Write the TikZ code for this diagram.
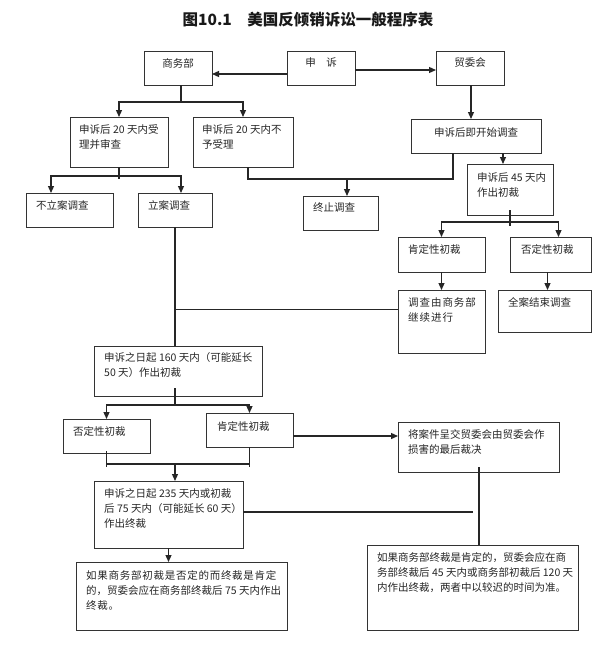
\documentclass[tikz,border=0pt]{standalone}
\usepackage{fontspec}
\setmainfont{Noto Sans CJK SC}
\usetikzlibrary{calc,arrows.meta}
\tikzset{
  box/.style={draw=black!80, line width=1pt, anchor=north west, inner sep=0pt, outer sep=0pt},
  txt/.style={anchor=north west, inner sep=0pt, align=left, font=\fontsize{10.5}{15}\selectfont, text=black!85},
  ln/.style={draw=black!85, line width=1.25pt},
  arr/.style={ln, -{Triangle[length=7pt,width=6pt]}},
}
\newcommand\boxat[5]{%
  \node[box, minimum width={#4pt-#2pt}, minimum height={#5pt-#3pt}] (#1) at (#2,#3) {};
}
\begin{document}
\begin{tikzpicture}[x=1pt,y=-1pt]
\fill[white] (0,0) rectangle (613,649);
\useasboundingbox (0,0) rectangle (613,649);

\node[font=\fontsize{15.5}{18}\bfseries, text=black!90] (title) at (308,20) {图10.1　美国反倾销诉讼一般程序表};

% boxes
\boxat{smb}{144}{51}{212}{85}
\boxat{ss}{287}{51}{355}{85}
\boxat{mw}{436}{51}{504}{85}
\boxat{A}{70}{117}{168}{167}
\boxat{B}{193}{117}{293}{167}
\boxat{nl}{26}{193}{113}{227}
\boxat{la}{138}{193}{212}{227}
\boxat{zz}{303}{196}{378}{230}
\boxat{ks}{411}{119}{541}{153}
\boxat{c45}{467}{164}{553}{215}
\boxat{kd1}{398}{237}{485}{272}
\boxat{fd1}{510}{237}{591}{272}
\boxat{jx}{398}{290}{485}{353}
\boxat{qa}{498}{290}{591}{332}
\boxat{c160}{94}{346}{262}{396}
\boxat{fd2}{63}{419}{150}{453}
\boxat{kd2}{206}{413}{293}{447}
\boxat{jaj}{398}{422}{559}{472}
\boxat{c235}{94}{481}{243}{548}
\boxat{fl}{76}{562}{287}{630}
\boxat{fr}{367}{545}{578}{630}

% texts
\node[txt, anchor=center] (smbt) at (178,63) {商务部};
\node[txt, anchor=center] (sst) at (321,62) {申　诉};
\node[txt, anchor=center] (mwt) at (470,63) {贸委会};
\node[txt] (At) at ($(A.north west)+(9,7)$) {申诉后 20 天内受\\理并审查};
\node[txt] (Bt) at ($(B.north west)+(9,7)$) {申诉后 20 天内不\\予受理};
\node[txt] (nlt) at ($(nl.north west)+(10,7)$) {不立案调查};
\node[txt] (lat) at ($(la.north west)+(10,7)$) {立案调查};
\node[txt] (zzt) at ($(zz.north west)+(10,6)$) {终止调查};
\node[txt, anchor=north] (kst) at ($(ks.north)+(0,8)$) {申诉后即开始调查};
\node[txt] (c45t) at ($(c45.north west)+(10,8)$) {申诉后 45 天内\\作出初裁};
\node[txt] (kd1t) at ($(kd1.north west)+(10,7)$) {肯定性初裁};
\node[txt] (fd1t) at ($(fd1.north west)+(11,7)$) {否定性初裁};
\node[txt] (jxt) at ($(jx.north west)+(10,7)$) {\addfontfeature{LetterSpace=9}调查由商务部\\\addfontfeature{LetterSpace=9}继续进行};
\node[txt] (qat) at ($(qa.north west)+(10,7)$) {全案结束调查};
\node[txt] (c160t) at ($(c160.north west)+(10,6)$) {申诉之日起 160 天内（可能延长\\50 天）作出初裁};
\node[txt] (fd2t) at ($(fd2.north west)+(10,7)$) {否定性初裁};
\node[txt] (kd2t) at ($(kd2.north west)+(11,8)$) {肯定性初裁};
\node[txt] (jajt) at ($(jaj.north west)+(10,7)$) {将案件呈交贸委会由贸委会作\\损害的最后裁决};
\node[txt] (c235t) at ($(c235.north west)+(10,7)$) {申诉之日起 235 天内或初裁\\后 75 天内（可能延长 60 天）\\作出终裁};
\node[txt] (flt) at ($(fl.north west)+(10,8)$) {\addfontfeature{LetterSpace=7}如果商务部初裁是否定的而终裁是肯定\\的，贸委会应在商务部终裁后 75 天内作出\\\addfontfeature{LetterSpace=7}终裁。};
\node[txt] (frt) at ($(fr.north west)+(10,7)$) {如果商务部终裁是肯定的，贸委会应在商\\务部终裁后 45 天内或商务部初裁后 120 天\\内作出终裁，两者中以较迟的时间为准。};

% connectors
\draw[arr] ($(ss.west)+(0,6)$) -- ($(smb.east)+(0,6)$);
\draw[arr] ($(ss.east)+(0,2)$) -- ($(mw.west)+(0,2)$);

\coordinate (smbS) at ($(smb.south)+(3,0)$);
\coordinate (j1) at ($(smbS)+(0,17)$);
\draw[ln] (smbS) -- (j1);
\draw[arr] (j1) -| (A.north);
\draw[arr] (j1) -| (B.north);

\coordinate (j2) at ($(A.south)+(0,9)$);
\draw[ln] (A.south) -- ($(A.south)+(0,12)$);
\coordinate (nlT) at ($(nl.north west)+(25,0)$);
\coordinate (laT) at ($(la.north west)+(43,0)$);
\draw[arr] (j2) -| (nlT);
\draw[arr] (j2) -| (laT);

\coordinate (bS) at ($(B.south)+(5,0)$);
\coordinate (j3) at ($(bS)+(0,12)$);
\coordinate (ksS) at ($(ks.south west)+(42,0)$);
\draw[ln] (bS) -- (j3) -| (ksS);
\coordinate (zzT) at ($(zz.north west)+(44,0)$);
\draw[arr] (zzT |- j3) -- (zzT);

\coordinate (mwS) at ($(mw.south)+(1,0)$);
\draw[arr] (mwS) -- (mwS |- ks.north);
\coordinate (ksS2) at ($(ks.south west)+(92,0)$);
\draw[arr] (ksS2) -- (ksS2 |- c45.north);

\coordinate (j4) at ($(c45.south)+(0,7)$);
\draw[ln] ($(c45.south)+(0,-5)$) -- ($(c45.south)+(0,11)$);
\coordinate (fdT) at ($(fd1.north)+(8,0)$);
\draw[arr] (j4) -| (kd1.north);
\draw[arr] (j4) -| (fdT);

\draw[arr] (kd1.south) -- (jx.north);
\coordinate (fdS) at ($(fd1.south)+(-3,0)$);
\draw[arr] (fdS) -- (fdS |- qa.north);

\draw[ln] (la.south) -- (la.south |- c160.north);
\coordinate (jxW) at ($(jx.west)+(0,-12)$);
\draw[ln] (jxW) -- (jxW -| la.south);

\coordinate (cS) at ($(c160.south)+(-3,0)$);
\coordinate (j5) at ($(cS)+(0,9)$);
\draw[ln] ($(cS)+(0,-8)$) -- (j5);
\draw[arr] (j5) -| (fd2.north);
\draw[arr] (j5) -| (kd2.north);

\coordinate (j6) at ($(c235.north west)+(81,-17)$);
\draw[ln] ($(fd2.south)+(0,-2)$) -- ++(0,16);
\draw[ln] (kd2.south) -- ++(0,20);
\draw[ln] (fd2.south |- j6) -- (kd2.south |- j6);
\draw[arr] (j6) -- (j6 |- c235.north);

\coordinate (kdE) at ($(kd2.east)+(0,6)$);
\draw[arr] (kdE) -- (kdE -| jaj.west);

\coordinate (jajS) at ($(jaj.south)+(0.5,0)$);
\draw[ln] ($(jajS)+(0,-5)$) -- (jajS |- fr.north);
\coordinate (c235E) at ($(c235.east)+(0,-2.5)$);
\draw[ln] (c235E) -- ($(c235E -| jajS)+(-6,0)$);

\draw[arr] (c235.south) -- (c235.south |- fl.north);
\end{tikzpicture}
\end{document}
